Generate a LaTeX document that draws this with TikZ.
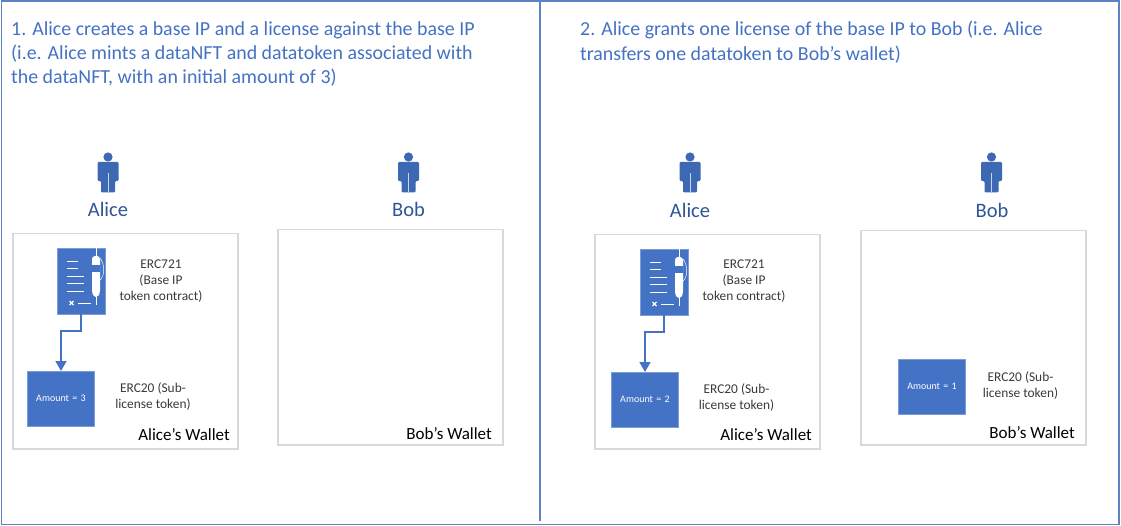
\documentclass[tikz,border=0pt]{standalone}
\usepackage{fontspec}
\usetikzlibrary{arrows.meta}
\setmainfont{Carlito}
\definecolor{blu}{HTML}{4472C4}
\definecolor{frm}{HTML}{5F82C4}
\definecolor{nam}{HTML}{2F5597}
\definecolor{gry}{HTML}{D9D9D9}
\definecolor{dk}{HTML}{3A3A3A}
\definecolor{ppl}{HTML}{3D68B4}
\tikzset{
  x=1pt,y=-1pt,
  frame/.style={draw=frm,line width=1.5pt},
  heading/.style={anchor=north west,inner sep=0pt,text=blu,align=left,font=\fontsize{19.9}{24.4}\selectfont},
  who/.style={text=nam,inner sep=0pt,font=\fontsize{20.5}{24}\selectfont},
  wallet/.style={draw=gry,line width=1.5pt,anchor=north west,inner sep=0pt},
  wname/.style={anchor=base east,inner sep=0pt,text=black,font=\fontsize{17}{20}\selectfont},
  small/.style={text=dk,inner sep=0pt,align=center,font=\fontsize{13.4}{16}\selectfont},
  token/.style={fill=blu,draw=blu!70!white,line width=1pt,anchor=north west,inner sep=0pt,text=white,font=\fontsize{10}{11}\selectfont,text width=67pt,minimum width=67pt,minimum height=54.5pt,align=center},
  link/.style={draw=blu,line width=1.6pt,-{Triangle[length=10pt,width=11pt]}},
  person/.pic={
    \fill[ppl] (0,4) circle (4.6);
    \fill[ppl,rounded corners=1.2pt] (-10.5,9) -- (10.5,9) -- (10.5,28) -- (7,28) -- (7,39.5) -- (-7,39.5) -- (-7,28) -- (-10.5,28) -- cycle;
    \draw[white!70!blu,line width=.4pt] (0,20) -- (0,39.5);
  },
  contract/.pic={
    \draw[fill=blu,draw=blu!70!white,line width=.8pt] (0,0) rectangle (48,66);
    \draw[white,line width=.9pt] (10,13) -- (21,13) (10,20.5) -- (21,20.5) (10,28) -- (27,28) (10,35.5) -- (27,35.5) (10,43) -- (27,43) (21,55) -- (34,55);
    \draw[white,line width=1.1pt] (12.5,53) -- (16.5,57) (16.5,53) -- (12.5,57);
    \draw[white,line width=.9pt] (39,0) -- (39,57);
    \fill[white,rounded corners=3pt] (35,8) -- (43,8) -- (43,45) -- (41,49) -- (37,49) -- (35,45) -- cycle;
    \fill[blu] (35,17) rectangle (43,24.5);
    \draw[white,line width=.5pt] (43,10) .. controls (48,16) and (48,28) .. (43,32);
  }
}
\begin{document}
\begin{tikzpicture}
\useasboundingbox (0,0) rectangle (1121,526);
\node[fill=white,minimum width=1121pt,minimum height=526pt,inner sep=0pt,anchor=north west] (bg) at (0,0) {};
\coordinate (tl) at (1.5,1.2);
\coordinate (br) at (1119,524.5);
\draw[frame] (tl) rectangle (br);
\coordinate (dtop) at (540,1.2);
\coordinate (dbot) at (540,521);
\draw[frame] (dtop) -- (dbot);

\node[heading] (h1) at (11,21) {1. Alice creates a base IP and a license against the base IP\\(i.e. Alice mints a dataNFT and datatoken associated with\\the dataNFT, with an initial amount of 3)};
\node[heading] (h2) at (580,21) {2. Alice grants one license of the base IP to Bob (i.e. Alice\\transfers one datatoken to Bob’s wallet)};

% panel 1
\pic at (108,153) {person};
\pic at (408.5,153) {person};
\node[who] (a1) at (108,209) {Alice};
\node[who] (b1) at (408.5,209) {Bob};
\node[wallet,minimum width=225pt,minimum height=215pt] (wa1) at (12,233) {};
\node[wallet,minimum width=225pt,minimum height=215pt] (wb1) at (277,229) {};
\pic at (57,248) {contract};
\coordinate (c1) at (81,314);
\coordinate (k1) at (81,331);
\node[small] (e1) at (161,281) {ERC721\\(Base IP\\token contract)};
\node[token] (t1) at (27,371) {Amount = 3};
\draw[link] (c1) -- (k1) -| (t1.north);
\node[small] (f1) at (153,397) {ERC20 (Sub-\\license token)};
\node[wname] (n1) at (230,440) {Alice’s Wallet};
\node[wname] (m1) at (492,439) {Bob’s Wallet};

% panel 2
\pic at (690,153) {person};
\pic at (991.5,153) {person};
\node[who] (a2) at (690,210) {Alice};
\node[who] (b2) at (992,210) {Bob};
\node[wallet,minimum width=225pt,minimum height=214pt] (wa2) at (594,234) {};
\node[wallet,minimum width=225pt,minimum height=214pt] (wb2) at (860,230) {};
\pic at (640,249) {contract};
\coordinate (c2) at (664,315);
\coordinate (k2) at (664,332);
\node[small] (e2) at (744,281.5) {ERC721\\(Base IP\\token contract)};
\node[token] (t2) at (611,372) {Amount = 2};
\draw[link] (c2) -- (k2) -| (t2.north);
\node[small] (f2) at (736.5,398) {ERC20 (Sub-\\license token)};
\node[wname] (n2) at (812,440) {Alice’s Wallet};
\node[token] (t3) at (898,359) {Amount = 1};
\node[small] (f3) at (1020.5,386) {ERC20 (Sub-\\license token)};
\node[wname] (m2) at (1075,438) {Bob’s Wallet};
\end{tikzpicture}
\end{document}
